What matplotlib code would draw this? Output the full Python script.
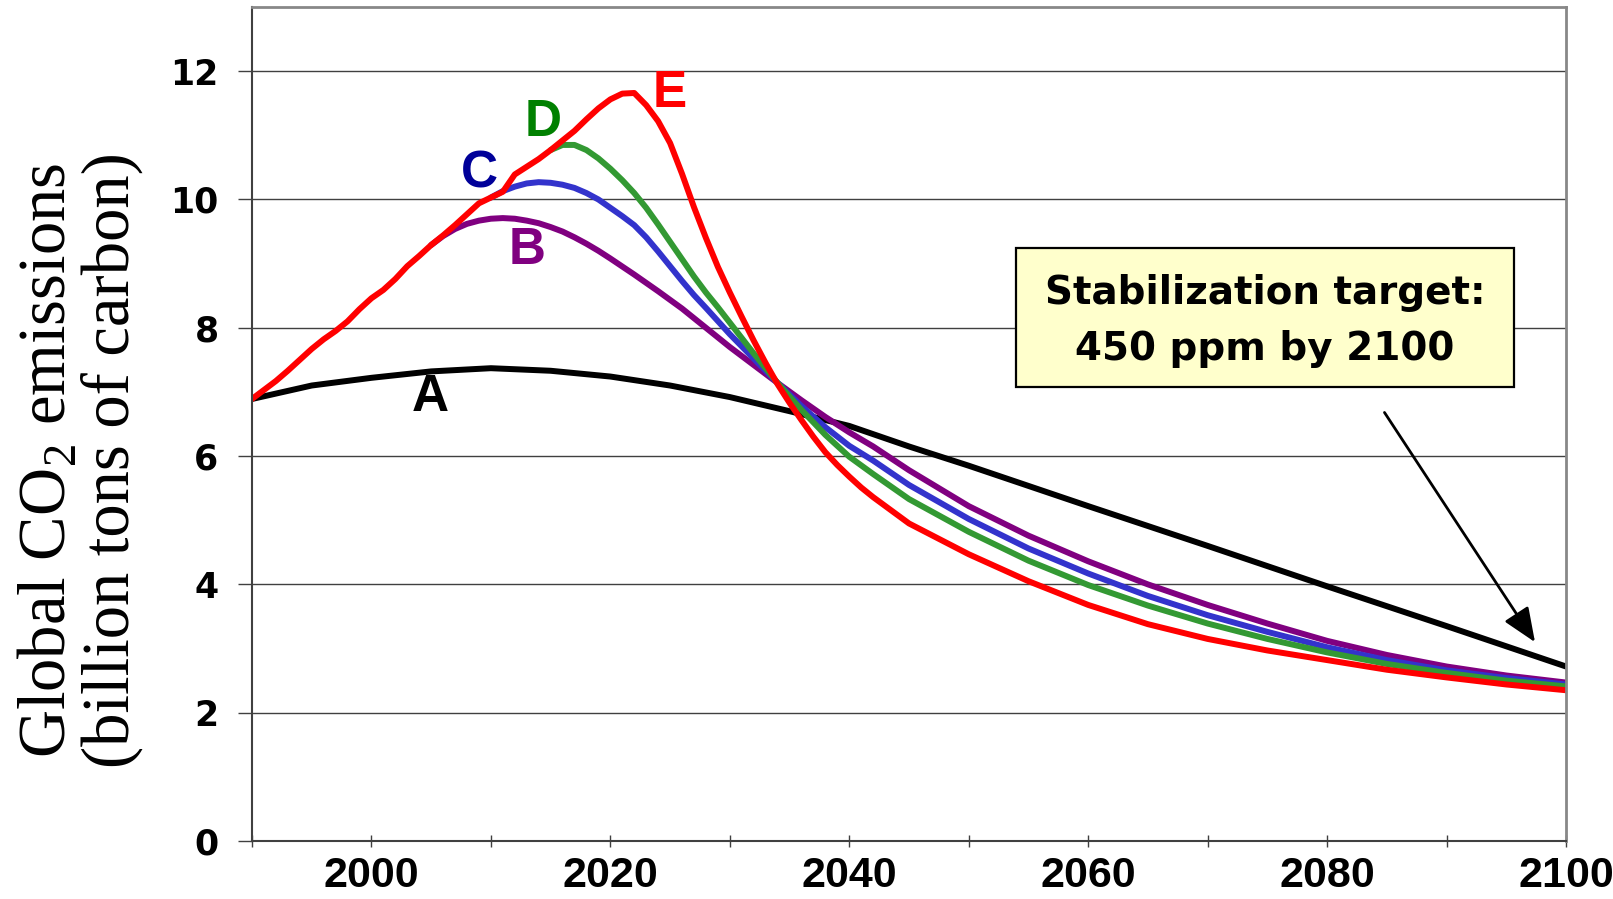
import matplotlib
matplotlib.use("Agg")
import matplotlib.pyplot as plt
from matplotlib.patches import Rectangle
from matplotlib.ticker import MultipleLocator

plt.rcParams["mathtext.fontset"] = "custom"
plt.rcParams["mathtext.rm"] = "Liberation Serif"

# tail years shared by the declining part of every scenario
tail_years = [2045, 2050, 2055, 2060, 2065, 2070, 2075, 2080, 2085, 2090, 2095, 2100]

# A: early action
years_a = [1990, 1995, 2000, 2005, 2010, 2015, 2020, 2025, 2030, 2035, 2040,
           2045, 2050, 2060, 2070, 2080, 2090, 2100]
emis_a = [6.89, 7.10, 7.22, 7.32, 7.37, 7.33, 7.24, 7.10, 6.92, 6.70, 6.47,
          6.15, 5.85, 5.22, 4.60, 3.97, 3.35, 2.72]

# B
years_b = list(range(2005, 2021)) + [2022, 2024, 2026, 2028, 2030, 2032, 2034,
                                     2036, 2038, 2040, 2042] + tail_years
emis_b = [9.29, 9.43, 9.54, 9.62, 9.67, 9.70, 9.71, 9.70, 9.67, 9.63, 9.57,
          9.50, 9.41, 9.31, 9.20, 9.08,
          8.83, 8.57, 8.30, 8.00, 7.70, 7.42, 7.14, 6.87, 6.61, 6.37, 6.15,
          5.78, 5.22, 4.76, 4.36, 4.00, 3.68, 3.39, 3.12, 2.90, 2.72, 2.58, 2.47]

# C
years_c = list(range(2010, 2029)) + [2030, 2032, 2034, 2036, 2038, 2040, 2042] + tail_years
emis_c = [10.03, 10.13, 10.20, 10.25, 10.27, 10.26, 10.23, 10.18, 10.10, 10.00,
          9.87, 9.74, 9.60, 9.41, 9.19, 8.96, 8.73, 8.51, 8.31,
          7.90, 7.52, 7.14, 6.78, 6.45, 6.16, 5.93,
          5.55, 5.02, 4.56, 4.17, 3.82, 3.52, 3.26, 3.02, 2.82, 2.66, 2.54, 2.44]

# D
years_d = list(range(2015, 2035)) + [2036, 2038, 2040, 2042] + tail_years
emis_d = [10.77, 10.85, 10.85, 10.77, 10.64, 10.48, 10.30, 10.10, 9.87, 9.61,
          9.34, 9.07, 8.80, 8.55, 8.32, 8.08, 7.84, 7.60, 7.37, 7.14,
          6.72, 6.33, 5.99, 5.72,
          5.33, 4.82, 4.37, 3.99, 3.67, 3.39, 3.15, 2.94, 2.76, 2.62, 2.50, 2.41]

# E: delayed action (annual values until 2042)
years_e = list(range(1990, 2043)) + tail_years
emis_e = [6.89, 7.03, 7.17, 7.33, 7.50, 7.67, 7.82, 7.95, 8.10, 8.29,
          8.46, 8.59, 8.76, 8.96, 9.12, 9.29, 9.44, 9.60, 9.77, 9.94,
          10.03, 10.12, 10.39, 10.51, 10.63, 10.77, 10.92, 11.07, 11.25, 11.42,
          11.56, 11.65, 11.66, 11.47, 11.22, 10.88, 10.40, 9.88, 9.40, 8.95,
          8.55, 8.17, 7.80, 7.45, 7.12, 6.83, 6.56, 6.30, 6.06, 5.86,
          5.68, 5.51, 5.36,
          4.95, 4.47, 4.05, 3.68, 3.38, 3.15, 2.97, 2.82, 2.67, 2.55, 2.44, 2.35]

series = [
    (years_a, emis_a, "black"),
    (years_b, emis_b, "#800080"),
    (years_c, emis_c, "#3333CC"),
    (years_d, emis_d, "#339933"),
    (years_e, emis_e, "#FF0000"),
]

# curve letters: text, x, y, colour
curve_labels = [
    ("A", 2004.9, 6.92, "black"),
    ("B", 2013.0, 9.21, "#800080"),
    ("C", 2009.0, 10.40, "#000099"),
    ("D", 2014.4, 11.20, "#008000"),
    ("E", 2025.0, 11.65, "#FF0000"),
]

x_ticks = [2000, 2020, 2040, 2060, 2080, 2100]
y_ticks = [0, 2, 4, 6, 8, 10, 12]

fig = plt.figure(figsize=(16.13, 8.99), dpi=100)
ax = fig.add_axes([0.1562, 0.0645, 0.8147, 0.9277])

for xs, ys, col in series:
    ax.plot(xs, ys, color=col, lw=4.3, solid_capstyle="round", solid_joinstyle="round")

for txt, x, y, col in curve_labels:
    ax.text(x, y, txt, color=col, fontsize=37, fontweight="bold",
            family="Liberation Sans", ha="center", va="center")

ax.set_xlim(1990, 2100)
ax.set_ylim(0, 13)

ax.set_xticks(x_ticks, labels=[str(v) for v in x_ticks], fontsize=31,
              fontweight="bold", family="Liberation Sans")
ax.xaxis.set_minor_locator(MultipleLocator(10))
ax.set_yticks(y_ticks, labels=[str(v) for v in y_ticks], fontsize=25,
              fontweight="bold", family="DejaVu Sans")

ax.tick_params(axis="x", which="both", direction="inout", length=9, width=1,
               color="#404040", pad=6)
ax.tick_params(axis="y", direction="out", length=10, width=1,
               color="#404040", pad=14)

ax.yaxis.grid(True, color="#404040", lw=1.0)
ax.set_axisbelow(True)

for side in ["left", "bottom"]:
    ax.spines[side].set_color("#404040")
    ax.spines[side].set_linewidth(1.5)
for side in ["top", "right"]:
    ax.spines[side].set_color("#888888")
    ax.spines[side].set_linewidth(2)

# annotation box and arrow
ax.add_patch(Rectangle((0.5814, 0.5444), 0.379, 0.1666, transform=ax.transAxes,
                       facecolor="#FFFFCC", edgecolor="black", lw=1.6, zorder=5))
ax.text(0.771, 0.6237, "Stabilization target:\n450 ppm by 2100",
        transform=ax.transAxes, ha="center", va="center", fontsize=28,
        fontweight="bold", family="DejaVu Sans", linespacing=1.6, zorder=6)
ax.annotate("", xy=(2097.4, 3.10), xytext=(2084.8, 6.68),
            arrowprops=dict(arrowstyle="-|>,head_length=0.6,head_width=0.25",
                            color="black", lw=2, mutation_scale=35,
                            shrinkA=0, shrinkB=0))

fig.text(0.0496, 0.488,
         "Global CO$_\\mathrm{2}$ emissions\n(billion tons of carbon)",
         rotation=90, ha="center", va="center", multialignment="center",
         fontsize=48, family="Liberation Serif", linespacing=1.0)

fig.savefig("out.png", dpi=100)
